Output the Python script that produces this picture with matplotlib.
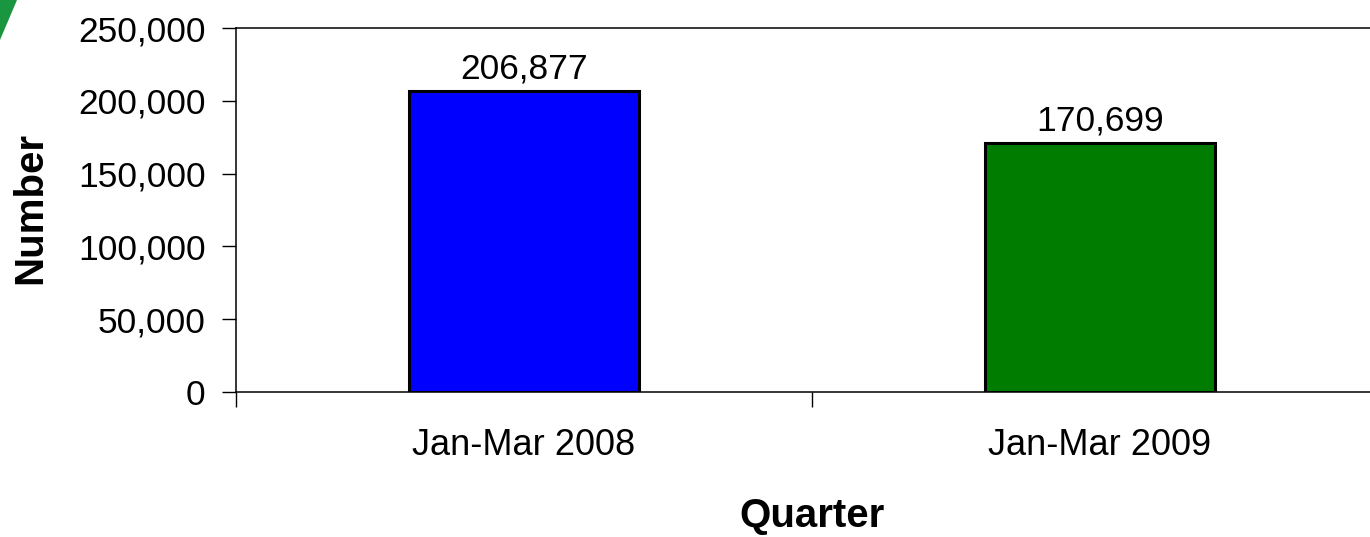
import matplotlib.pyplot as plt
from matplotlib.patches import Polygon
from matplotlib.ticker import FuncFormatter

plt.rcParams['font.family'] = ['Liberation Sans', 'DejaVu Sans']

# Quarterly totals
quarters = ["Jan-Mar 2008", "Jan-Mar 2009"]
counts = [206877, 170699]
bar_colors = ["#0000ff", "#007d00"]
y_ticks = [0, 50000, 100000, 150000, 200000, 250000]

fig = plt.figure(figsize=(13.7, 5.37), dpi=100)
ax = fig.add_axes([236 / 1370, 145 / 537, 1152 / 1370, 364 / 537])

x = list(range(len(quarters)))
bars = ax.bar(x, counts, width=0.4, color=bar_colors, edgecolor="black", linewidth=2.2)

for rect, val in zip(bars, counts):
    ax.annotate(f"{val:,}", (rect.get_x() + rect.get_width() / 2, val),
                xytext=(0, 9), textcoords="offset points",
                ha="center", va="baseline", fontsize=25.5)

ax.set_xlim(-0.5, 1.5)
ax.set_ylim(0, 250000)
ax.set_yticks(y_ticks)
ax.yaxis.set_major_formatter(FuncFormatter(lambda v, p: f"{int(v):,}"))

# category labels at centres, tick marks at the boundaries
ax.set_xticks(x)
ax.set_xticklabels(quarters)
ax.set_xticks([-0.5, 0.5, 1.5], minor=True)
ax.tick_params(axis="x", which="major", length=0, pad=26, labelsize=26)
ax.tick_params(axis="x", which="minor", length=11, width=1, direction="out")
ax.tick_params(axis="y", length=10, width=1, pad=12, labelsize=25.5)

for side in ("left", "top", "bottom"):
    ax.spines[side].set_linewidth(1.1)
ax.spines["right"].set_visible(False)

fig.text(30 / 1370, 1 - 208 / 537, "Number", rotation=90, ha="center", va="center",
         fontsize=29, fontweight="bold")
fig.text(812 / 1370, 1 - 516 / 537, "Quarter", ha="center", va="center",
         fontsize=29, fontweight="bold")

# corner decoration
corner = Polygon([(0, 1), (17 / 1370, 1), (0, 1 - 40 / 537)], closed=True,
                 transform=fig.transFigure, facecolor="#1a9641", edgecolor="none")
fig.patches.append(corner)

fig.savefig("out.png", dpi=100)
